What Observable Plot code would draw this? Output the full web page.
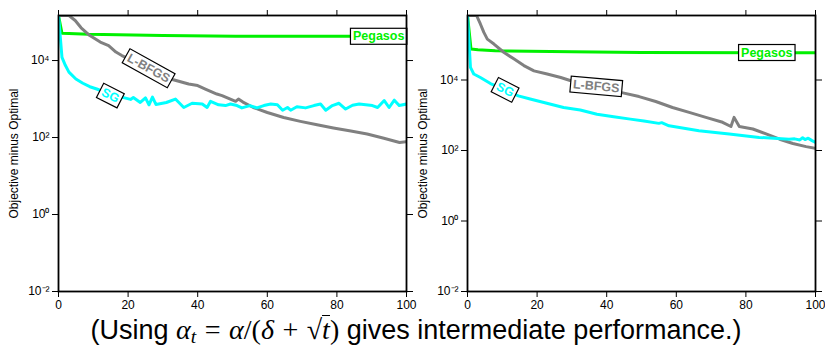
<!DOCTYPE html>
<html><head><meta charset="utf-8">
<script src="https://cdn.jsdelivr.net/npm/d3@7"></script>
<script src="https://cdn.jsdelivr.net/npm/@observablehq/plot@0.6"></script>
<style>
body{margin:0;background:#fff;}
#wrap{position:relative;width:825px;height:350px;overflow:hidden;font-family:"Liberation Sans",Arial,sans-serif;background:#fff;}
#left{position:absolute;left:0;top:0;}
#right{position:absolute;left:409px;top:0;}
#caption{position:absolute;left:0;width:832px;top:315px;height:32px;line-height:30px;text-align:center;font-size:27px;color:#000;white-space:nowrap;}
.m{font-family:"Liberation Serif","DejaVu Serif",serif;font-size:1.04em;line-height:30px;}
.m i{font-style:italic;}
.m sub{font-size:0.7em;vertical-align:-0.2em;line-height:0;}
.op{padding:0 0.3em;}
.bar{border-top:1.4px solid #000;display:inline-block;line-height:1;}
</style>
</head><body>
<div id="wrap">
  <div id="left"></div>
  <div id="right"></div>
  <div id="caption">(Using <span class="m"><i>α</i><sub><i>t</i></sub><span class="op">=</span><i>α</i>/(<i>δ</i><span class="op">+</span>√<span class="bar"><i>t</i></span>)</span> gives intermediate performance.)</div>
</div>
<script>
// ---- data: [iteration, log10(objective minus optimal)] ----
const xTicks = [0, 20, 40, 60, 80, 100];
const yTicks = [1e-2, 1e0, 1e2, 1e4];
const yLabel = "Objective minus Optimal";

const leftPegasos = [[0,5.17],[1,4.71],[3,4.70],[8.6,4.68],[30,4.65],[50.9,4.63],[84,4.63],[100,4.61]];
const leftLBFGS = [[0,5.17],[3,5.17],[4.8,5.04],[6.5,4.85],[9,4.65],[12,4.48],[14.4,4.39],[16.5,4.22],[18.2,4.13],[22,3.97],[26,3.80],[30,3.63],[33,3.50],[37.4,3.39],[40,3.35],[42.2,3.26],[45.5,3.13],[47,3.09],[50.9,2.94],[51.7,3.0],[53,2.92],[56,2.78],[60,2.65],[64.7,2.52],[69.5,2.42],[74.3,2.33],[79,2.25],[84,2.17],[88.7,2.09],[93.5,1.98],[98,1.87],[100,1.89]];
const leftSG = [[0,5.17],[1,4.08],[2,3.87],[3,3.70],[5,3.52],[7,3.41],[9,3.32],[11,3.26],[15,3.12],[19,3.03],[20.7,2.99],[21.5,3.04],[23.5,2.91],[25,3.03],[26,2.85],[27,3.05],[28,2.86],[31,2.91],[33.6,3.0],[36,2.78],[38.4,2.89],[41.3,2.87],[42.7,2.78],[43.7,2.94],[46,2.85],[48,2.83],[49.4,2.87],[51.3,2.83],[52.7,2.77],[55,2.83],[57,2.77],[59,2.83],[61,2.87],[62.9,2.85],[64.4,2.71],[65.8,2.78],[66.7,2.71],[68.5,2.80],[71,2.77],[73.4,2.83],[75.3,2.87],[76.8,2.71],[78.7,2.83],[80.6,2.89],[82.5,2.74],[84.5,2.84],[86.4,2.87],[88.3,2.85],[90.2,2.83],[91.7,2.78],[93.6,2.96],[95,2.78],[96.5,2.97],[97.9,2.83],[100,2.87]];

const rightPegasos = [[0,5.83],[1,4.88],[3,4.86],[8,4.83],[30,4.80],[50,4.78],[100,4.77]];
const rightLBFGS = [[0,5.83],[2.6,5.83],[3.7,5.59],[4.7,5.35],[5.7,5.16],[7.6,5.02],[10.5,4.78],[13.3,4.60],[16.2,4.41],[19.1,4.26],[22.9,4.17],[26.8,4.07],[29.7,3.98],[33,3.90],[37,3.82],[41,3.72],[44,3.65],[49.3,3.53],[54.1,3.39],[58.9,3.22],[63.7,3.08],[68.5,2.94],[73.3,2.80],[75.7,2.68],[76.6,2.94],[78.1,2.68],[82,2.61],[85.8,2.47],[89.7,2.32],[93.5,2.20],[97.3,2.11],[100,2.06]];
const rightSG = [[0,5.83],[0.85,4.36],[1.8,4.17],[3.7,4.07],[6.6,3.90],[10.8,3.72],[14.6,3.55],[18,3.46],[22.8,3.34],[27.6,3.22],[32.4,3.15],[37.2,3.03],[42,2.96],[46.8,2.89],[50.7,2.84],[55,2.77],[55.8,2.79],[57.9,2.70],[66.5,2.56],[75.2,2.47],[83.8,2.37],[88,2.35],[92.4,2.32],[94,2.33],[95.5,2.30],[96.3,2.36],[97,2.31],[97.9,2.35],[99,2.28],[100,2.23]];

const seriesNames = ["Pegasos", "L-BFGS", "SG"];
const seriesColors = ["#00f000", "#808080", "#00ffff"];
// label anchors: [iteration, log10 value, rotation]
const leftLabelPos = [[92, 4.63, 0], [25.9, 3.80, 29], [14.9, 3.09, 27]];
const rightLabelPos = [[86, 4.78, 0], [37, 3.82, 5], [10.8, 3.72, 27]];
const leftTopLog = 5.17, rightTopLog = 5.83;

const sup = {"-2": "⁻²", "0": "⁰", "2": "²", "4": "⁴"};
const fmtY = d => "10" + sup[String(Math.round(Math.log10(d)))];

function panel(lines, labelPos, topLog) {
  const labels = labelPos.map(([t, e, r], i) => ({t, v: 10 ** e, rot: r, name: seriesNames[i], color: seriesColors[i]}));
  return Plot.plot({
    width: 416, height: 312,
    marginLeft: 58, marginRight: 10, marginTop: 15, marginBottom: 21,
    style: {fontFamily: "Liberation Sans, Arial, sans-serif", fontSize: "12px", background: "transparent", color: "black", overflow: "visible"},
    x: {domain: [0, 100]},
    y: {type: "log", domain: [1e-2, 10 ** topLog]},
    color: {type: "identity"},
    marks: [
      ...lines.map((pts, i) => Plot.line(pts, {x: d => d[0], y: d => 10 ** d[1], stroke: seriesColors[i], strokeWidth: 3, clip: true})),
      Plot.text(labels, {x: "t", y: "v", text: "name", rotate: "rot", fill: "color", fontWeight: "bold", fontSize: 12.5, fontFamily: "Liberation Sans, Arial, sans-serif", ariaLabel: () => "series-label"}),
      Plot.frame({stroke: "black", strokeWidth: 1.8}),
      Plot.axisX({anchor: "bottom", ticks: xTicks, tickSize: 6, tickFormat: d => String(d), label: null}),
      Plot.axisX({anchor: "top", ticks: xTicks, tickSize: 6, tickFormat: () => "", label: null}),
      Plot.axisY({anchor: "left", ticks: yTicks, tickSize: 6, tickFormat: fmtY, label: yLabel, labelAnchor: "center", labelArrow: "none", labelOffset: 49}),
      Plot.axisY({anchor: "right", ticks: yTicks, tickSize: 6, tickFormat: () => "", label: null})
    ]
  });
}

function boxLabels(svg) {
  svg.querySelectorAll('text[aria-label="series-label"]').forEach(t => {
    const bb = t.getBBox();
    const r = document.createElementNS("http://www.w3.org/2000/svg", "rect");
    r.setAttribute("x", bb.x - 2.5);
    r.setAttribute("y", bb.y - 1);
    r.setAttribute("width", bb.width + 5);
    r.setAttribute("height", bb.height + 2);
    r.setAttribute("fill", "white");
    r.setAttribute("stroke", "black");
    r.setAttribute("stroke-width", "1.2");
    const tr = t.getAttribute("transform");
    if (tr) r.setAttribute("transform", tr);
    t.parentNode.insertBefore(r, t);
  });
}

const L = panel([leftPegasos, leftLBFGS, leftSG], leftLabelPos, leftTopLog);
const R = panel([rightPegasos, rightLBFGS, rightSG], rightLabelPos, rightTopLog);
document.getElementById("left").appendChild(L);
document.getElementById("right").appendChild(R);
boxLabels(L); boxLabels(R);
</script>
</body></html>
